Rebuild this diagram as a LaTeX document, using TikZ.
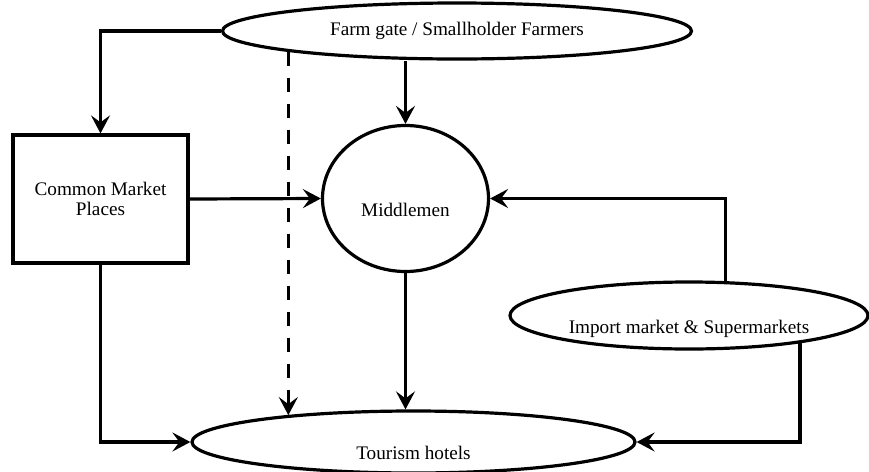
\documentclass[tikz,border=0pt]{standalone}
\usepackage{fontspec}
\setmainfont{Liberation Serif}
\usetikzlibrary{arrows.meta}
\usetikzlibrary{shapes.geometric}

\begin{document}
\begin{tikzpicture}[x=0.5pt, y=-0.5pt,
  box/.style={draw, line width=1.6pt, font=\fontsize{9.6}{10}\selectfont},
  oval/.style={box, ellipse, inner sep=0pt},
  lowtext/.style={text height=17.5pt, text depth=0pt},
  flow/.style={line width=1.6pt, -{Stealth[length=9pt, width=9.5pt, inset=3.5pt]}}]
  \useasboundingbox (0,0) rectangle (869,472);

  \node[oval, minimum width=234.5pt, minimum height=28pt] (Farmers) at
  (457,31) {Farm gate / Smallholder Farmers};
  \node[box, rectangle, minimum width=87.5pt, minimum height=64pt,
    align=center] (Market) at (100.5,199) {Common Market\\ Places};
  \node[oval, lowtext, minimum width=83pt, minimum height=73pt] (Middlemen)
  at (405.5,198.5) {Middlemen};
  \node[oval, lowtext, minimum width=179pt, minimum height=33.5pt] (Import)
  at (689,315.5) {Import market \& Supermarkets};
  \node[oval, lowtext, minimum width=221.5pt, minimum height=31pt] (Hotels)
  at (413.5,442) {Tourism hotels};

\draw[flow] (Farmers.west) -| (Market.north);
\draw[flow, dash pattern=on 7pt off 6pt] (Farmers.187) -- (Farmers.187 |- Hotels.168);
\draw[flow] (Farmers.south -| Middlemen.north) -- (Middlemen.north);
\draw[flow] (Market.east) -- (Middlemen.west);
\draw[flow] (Middlemen.south) -- (Middlemen.south |- Hotels.north);
\draw[flow] (Import.43) |- (Middlemen.east);
\draw[flow] (Import.-14.5) |- (Hotels.east);
\draw[flow] (Market.south) |- (Hotels.west);
\end{tikzpicture}
\end{document}
